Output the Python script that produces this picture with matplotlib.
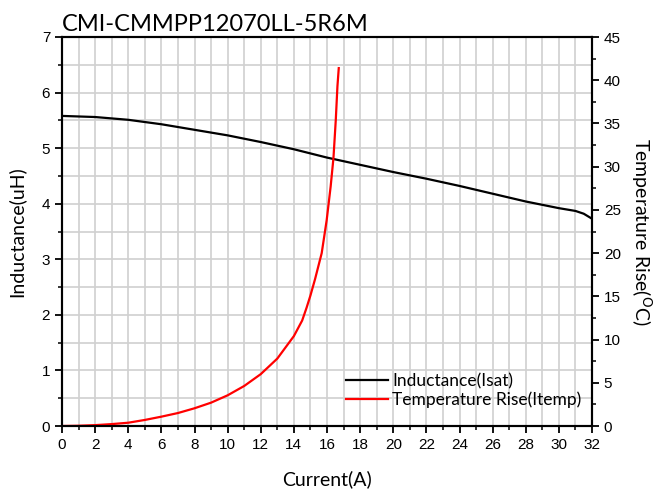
import matplotlib
matplotlib.use("Agg")
import matplotlib.pyplot as plt
from matplotlib.ticker import MultipleLocator

# Дані
current_l = [0, 2, 4, 6, 8, 10, 12, 14, 16, 18, 20, 22, 24, 26, 28, 30, 31, 31.5, 32]
inductance = [5.58, 5.56, 5.51, 5.43, 5.33, 5.23, 5.11, 4.98, 4.83, 4.70, 4.57, 4.45, 4.32, 4.18, 4.04, 3.92, 3.87, 3.82, 3.73]

current_t = [0, 1, 2, 3, 4, 5, 6, 7, 8, 9, 10, 11, 12, 13, 14, 14.5, 14.77, 15.0, 15.28,
             15.68, 15.98, 16.22, 16.39, 16.53, 16.63, 16.71]
temp_rise = [0, 0.03, 0.1, 0.22, 0.38, 0.7, 1.08, 1.5, 2.05, 2.7, 3.55, 4.63, 6.0, 7.8, 10.4,
             12.2, 13.7, 15.1, 17.0, 20.0, 23.8, 27.7, 31.0, 35.4, 39.3, 41.4]

title_font = "Lato"
tick_font = "Liberation Sans"

fig = plt.figure(figsize=(6.57, 4.91), dpi=100)
ax = fig.add_axes([62 / 657, 1 - 426 / 491, 530 / 657, 389 / 491])
ax2 = ax.twinx()

l1, = ax.plot(current_l, inductance, color="black", lw=1.6, label="Inductance(Isat)")
l2, = ax2.plot(current_t, temp_rise, color="red", lw=1.6, label="Temperature Rise(Itemp)")

ax.set_xlim(0, 32)
ax.set_ylim(0, 7)
ax2.set_ylim(0, 45)

ax.xaxis.set_major_locator(MultipleLocator(2))
ax.xaxis.set_minor_locator(MultipleLocator(1))
ax.yaxis.set_major_locator(MultipleLocator(1))
ax.yaxis.set_minor_locator(MultipleLocator(0.5))
ax2.yaxis.set_major_locator(MultipleLocator(5))
ax2.yaxis.set_minor_locator(MultipleLocator(2.5))

# сітка
ax.grid(True, which="both", color="#d0d0d0", lw=1.2)
ax.set_axisbelow(True)

for a in (ax, ax2):
    for s in a.spines.values():
        s.set_linewidth(1.5)
    a.tick_params(which="major", length=5, width=1.3, direction="out", labelsize=11)
    a.tick_params(which="minor", length=3, width=1.1, direction="out")
    for lab in a.get_xticklabels() + a.get_yticklabels():
        lab.set_fontfamily(tick_font)

ax.set_xlabel("Current(A)", fontsize=14, fontfamily=title_font, labelpad=13)
ax.set_ylabel("Inductance(uH)", fontsize=14, fontfamily=title_font, labelpad=12)
ax2.set_ylabel(r"Temperature Rise($^\mathrm{O}$C)", fontsize=14, fontfamily=title_font,
               rotation=270, labelpad=24)
ax.set_title("CMI-CMMPP12070LL-5R6M", fontsize=17, fontfamily=title_font, loc="left", pad=4)

leg = ax.legend(handles=[l1, l2], loc="lower right", bbox_to_anchor=(1.0, 0.02),
                frameon=False, prop={"family": title_font, "size": 12.5},
                handlelength=2.4, handletextpad=0.25, labelspacing=0.1, borderaxespad=0.2)

fig.savefig("out.png", dpi=100)
